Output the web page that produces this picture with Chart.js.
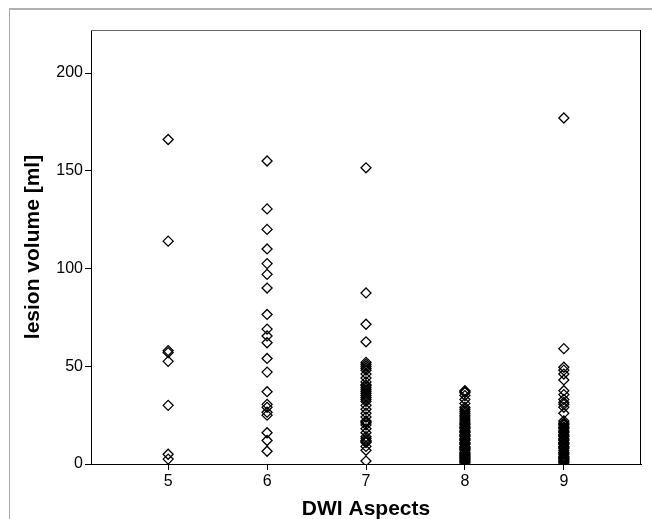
<!DOCTYPE html>
<html>
<head>
<meta charset="utf-8">
<script src="https://cdn.jsdelivr.net/npm/chart.js@4.4.0/dist/chart.umd.min.js"></script>
<style>
  html, body { margin: 0; padding: 0; background: #fff; }
  #wrap { position: relative; width: 652px; height: 519px; overflow: hidden; }
  #frame { position: absolute; left: 9px; top: 8px; width: 700px; height: 600px;
           border-left: 1px solid #a8a8a8; border-top: 2px solid #b0b0b0; }
  canvas { position: absolute; left: 0; top: 0; }
</style>
</head>
<body>
<div id="wrap">
  <div id="frame"></div>
  <canvas id="c" width="652" height="519"></canvas>
</div>
<script>
const aspectCategories = [5, 6, 7, 8, 9];
const volumeTicks = [0, 50, 100, 150, 200];

const vol5 = [166, 114, 58, 57, 52.5, 30, 5, 2.5];
const vol6 = [155, 130.5, 120, 110, 102.5, 97, 90, 76.5, 69, 65.5, 62, 54, 47, 37, 30.5, 29, 26.5, 25, 16, 12, 6.5];
const vol7 = [151.5, 87.5, 71.5, 62.5, 52, 51, 50, 49, 48, 46, 44, 42, 40.5, 40, 39, 38, 37, 36, 35, 34, 33, 32, 30, 28, 26, 24, 22, 21.5, 21, 20, 18, 16, 14, 13, 12, 11.5, 11, 9, 7, 1.5];
const vol8 = [37.5, 37, 36.5, 35, 33, 31, 29, 28, 27, 26, 25, 24, 23, 22, 21, 20.5, 20, 19, 18.5, 18, 17, 16.5, 16, 15, 14.5, 14, 13, 12.5, 12, 11, 10.5, 10, 9, 8.5, 8, 7.5, 7, 6, 5.5, 5, 4.5, 4, 3.5, 3, 2.5, 2, 1.5, 1, 0.5];
const vol9 = [177, 59, 49.5, 48, 46, 43, 37.5, 35.5, 33, 31.5, 30.5, 29, 26, 22, 21, 20.5, 20, 19, 18.5, 18, 17, 16.5, 16, 15, 14.5, 14, 13, 12.5, 12, 11, 10.5, 10, 9, 8.5, 8, 7, 6, 5.5, 5, 4, 3.5, 3, 2.5, 2, 1.5, 1, 0.5];

const volumesByAspect = [vol5, vol6, vol7, vol8, vol9];
const points = [];
aspectCategories.forEach((a, i) => {
  volumesByAspect[i].forEach(v => points.push({ x: a, y: v }));
});

const FONT = "'Liberation Sans', Arial, Helvetica, sans-serif";

const frameBox = {
  id: 'frameBox',
  afterDraw(chart) {
    const { ctx, chartArea: ca } = chart;
    ctx.save();
    ctx.lineWidth = 1;
    ctx.strokeStyle = '#666666';
    ctx.beginPath();
    ctx.moveTo(ca.left, ca.top + 0.5);
    ctx.lineTo(ca.right, ca.top + 0.5);
    ctx.stroke();
    ctx.strokeStyle = '#000000';
    ctx.beginPath();
    ctx.moveTo(ca.right - 0.5, ca.top);
    ctx.lineTo(ca.right - 0.5, ca.bottom);
    ctx.stroke();
    ctx.restore();
  }
};

new Chart(document.getElementById('c'), {
  type: 'scatter',
  data: {
    datasets: [{
      data: points,
      pointStyle: 'rectRot',
      pointRadius: 5,
      pointHoverRadius: 5,
      borderColor: '#000000',
      backgroundColor: 'rgba(0,0,0,0)',
      borderWidth: 1.3
    }]
  },
  options: {
    responsive: false,
    animation: false,
    devicePixelRatio: 1,
    events: [],
    layout: { padding: { left: 0, top: 30, right: 11, bottom: 0 } },
    plugins: { legend: { display: false }, tooltip: { enabled: false } },
    scales: {
      x: {
        type: 'linear',
        min: 4.22,
        max: 9.78,
        afterBuildTicks(scale) { scale.ticks = aspectCategories.map(v => ({ value: v })); },
        afterFit(scale) { scale.height = 55; },
        grid: { drawOnChartArea: false, drawTicks: true, tickLength: 6, tickColor: '#000000', lineWidth: 1 },
        border: { display: true, color: '#000000', width: 1 },
        ticks: { color: '#000000', font: { family: FONT, size: 16 }, padding: 2, maxRotation: 0 },
        title: { display: true, text: 'DWI Aspects', color: '#000000',
                 font: { family: FONT, size: 21, weight: 'bold', lineHeight: 0.9 },
                 padding: { top: 0, bottom: 0 } }
      },
      y: {
        type: 'linear',
        min: 0,
        max: 222,
        afterBuildTicks(scale) { scale.ticks = volumeTicks.map(v => ({ value: v })); },
        afterFit(scale) { scale.width = 91; },
        grid: { drawOnChartArea: false, drawTicks: true, tickLength: 6, tickColor: '#000000', lineWidth: 1 },
        border: { display: true, color: '#000000', width: 1 },
        ticks: { color: '#000000', font: { family: FONT, size: 16 }, padding: 2 },
        title: { display: true, text: 'lesion volume [ml]', color: '#000000',
                 font: { family: FONT, size: 21, weight: 'bold', lineHeight: 1 },
                 padding: { top: 23, bottom: 0 } }
      }
    }
  },
  plugins: [frameBox]
});
</script>
</body>
</html>
